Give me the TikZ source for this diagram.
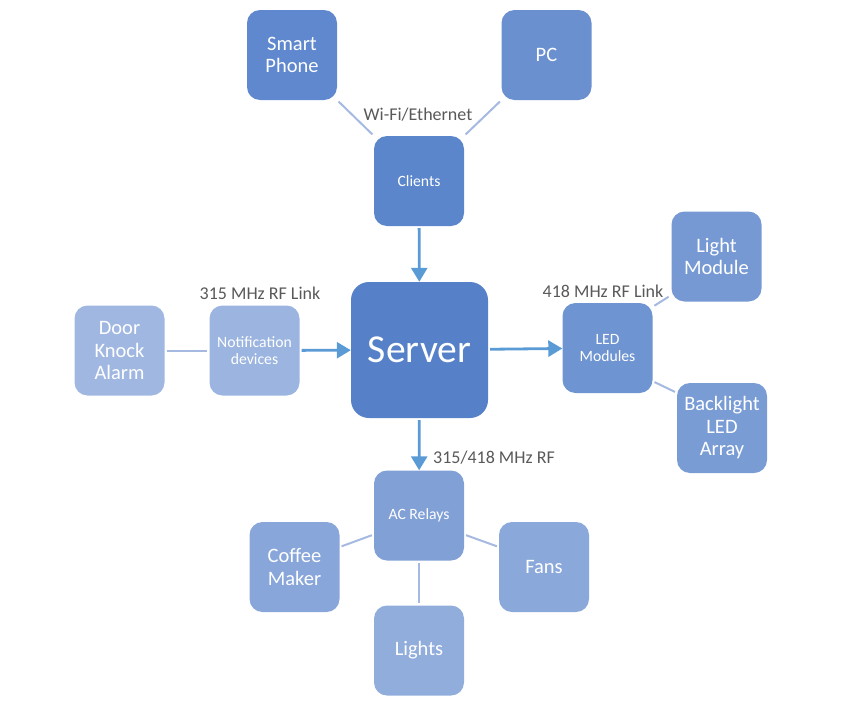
\documentclass[tikz,border=0pt]{standalone}
\usepackage{fontspec}
\setmainfont{Carlito}
\usetikzlibrary{arrows.meta, positioning}
\definecolor{srvblue}{HTML}{5680C8}
\definecolor{cliblue}{HTML}{5B86CC}
\definecolor{phnblue}{HTML}{5F88CE}
\definecolor{pcblue}{HTML}{6A90D0}
\definecolor{ledblue}{HTML}{6E94D1}
\definecolor{lmblue}{HTML}{7699D4}
\definecolor{blblue}{HTML}{7A9CD5}
\definecolor{acblue}{HTML}{80A0D6}
\definecolor{cmblue}{HTML}{88A6D9}
\definecolor{fanblue}{HTML}{8AA8DA}
\definecolor{ltblue}{HTML}{91ADDC}
\definecolor{ntfblue}{HTML}{9BB5E0}
\definecolor{dkblue}{HTML}{A0B8E1}
\definecolor{linkline}{HTML}{A6B9E0}
\definecolor{arrowblue}{HTML}{5B9BD5}
\definecolor{labelgray}{HTML}{595959}

\begin{document}
\begin{tikzpicture}[x=1pt, y=-1pt,
        box/.style={rectangle, rounded corners=13pt, minimum width=90pt, minimum height=90pt,
            inner sep=2pt, text=white, align=center, font=\fontsize{20.5}{22.5}\selectfont},
        smallbox/.style={box, font=\fontsize{15.7}{17.5}\selectfont},
        link/.style={draw=linkline, line width=2pt},
        feed/.style={draw=arrowblue, line width=2.8pt, -{Triangle[length=14pt, width=16pt]}},
        lbl/.style={text=labelgray, font=\fontsize{18}{20}\selectfont, inner sep=0pt}]
                \useasboundingbox (0,0) rectangle (849,715);
                \node[box, fill=srvblue, minimum width=137pt, minimum height=136pt, rounded corners=18pt,
                    font=\fontsize{39.6}{44}\selectfont] (server) at (419.5,350) {Server};
                \node[smallbox, fill=cliblue] (clients) at (419,181) {Clients};
                \node[box, fill=phnblue] (phone) at (292,55) {Smart\\Phone};
                \node[box, fill=pcblue] (pc) at (546.5,55) {PC};
                \node[smallbox, fill=ledblue] (led) at (607.5,348) {LED\\Modules};
                \node[box, fill=lmblue] (lightmod) at (716.5,256.5) {Light\\Module};
                \node[box, fill=blblue] (backlight) at (722,428) {Backlight\\LED\\Array};
                \node[smallbox, fill=ntfblue] (notify) at (254.5,350.5) {Notification\\devices};
                \node[box, fill=dkblue] (door) at (119.5,350.5) {Door\\Knock\\Alarm};
                \node[smallbox, fill=acblue] (relays) at (419,515.5) {AC Relays};
                \node[box, fill=cmblue] (coffee) at (294.5,567) {Coffee\\Maker};
                \node[box, fill=fanblue] (fans) at (544,567) {Fans};
                \node[box, fill=ltblue] (lights) at (419,650.5) {Lights};
                % link labels
                \node[lbl] (wifi) at (418,115) {Wi-Fi/Ethernet};
                \node[lbl] (rf315) at (260,293) {315 MHz RF Link};
                \node[lbl] (rf418) at (603,291) {418 MHz RF Link};
                \node[lbl, anchor=west] (rfboth) at (433,458) {315/418 MHz RF};
                % connectors
                \path[link, shorten >=2pt, shorten <=2pt]
                (phone.south east) edge (clients.north west)
                (pc.south west) edge (clients.north east)
                (door) edge (notify)
                ([yshift=-4pt]led.north east) edge ([xshift=-1pt, yshift=6pt]lightmod.south west)
                ([yshift=12pt]led.south east) edge ([yshift=-10pt]backlight.north west)
                ([yshift=-19pt]relays.west) edge ([yshift=20pt]coffee.east)
                ([yshift=-19pt]relays.east) edge ([yshift=20pt]fans.west)
                (relays) edge (lights);
                \draw[feed, shorten <=2pt] (clients) -- (server);
                \draw[feed, shorten <=2pt] (notify) -- (server);
                \draw[feed, shorten <=2pt] (server) -- (led);
                \draw[feed, shorten <=2pt] (server) -- (relays);
        \end{tikzpicture}
\end{document}
